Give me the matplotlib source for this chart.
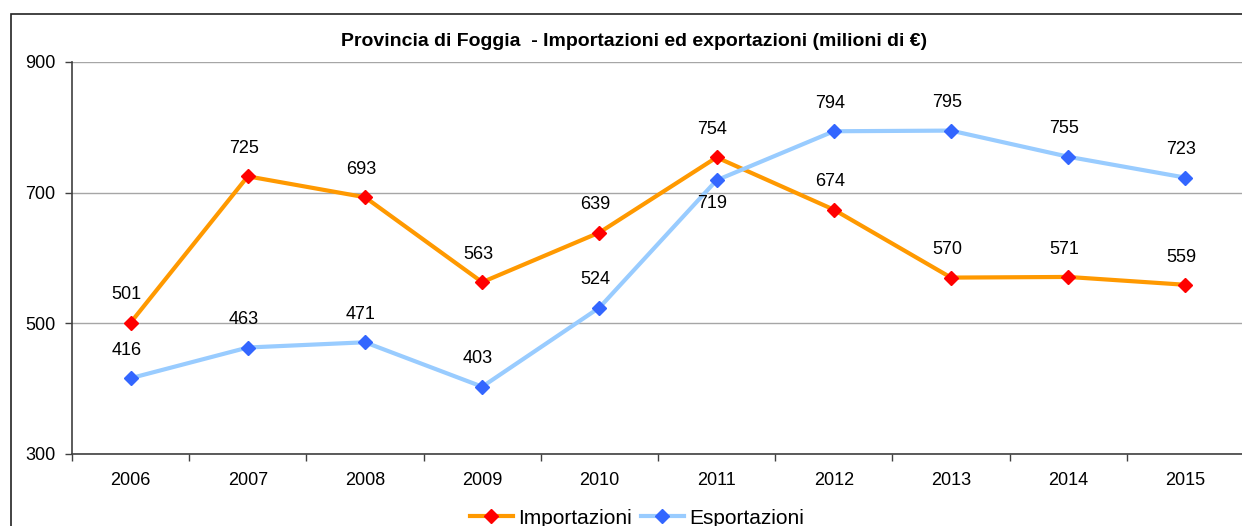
import matplotlib.pyplot as plt
from matplotlib.patches import Rectangle
from matplotlib.ticker import FixedLocator, NullFormatter

plt.rcParams['font.family'] = ['Liberation Sans', 'DejaVu Sans']

# Dati (milioni di euro)
anni = ['2006', '2007', '2008', '2009', '2010', '2011', '2012', '2013', '2014', '2015']
importazioni = [501, 725, 693, 563, 639, 754, 674, 570, 571, 559]
esportazioni = [416, 463, 471, 403, 524, 719, 794, 795, 755, 723]

W, H = 1242, 526
fig = plt.figure(figsize=(W / 100, H / 100), dpi=100)

# cornice del grafico (esce dal bordo a destra e in basso)
fig.patches.append(Rectangle((11 / W, -0.1), 1.2, 1 - 14 / H + 0.1,
                             transform=fig.transFigure, fill=False,
                             edgecolor='#222222', linewidth=1.2))

ax = fig.add_axes([72 / W, (H - 454) / H, (1244 - 72) / W, (454 - 62) / H])
x = list(range(len(anni)))

ax.plot(x, importazioni, color='#FF9900', lw=3, marker='D', ms=7.5,
        mfc='#FF0000', mec='#FF0000', label='Importazioni', zorder=3)
ax.plot(x, esportazioni, color='#99CCFF', lw=3, marker='D', ms=7.5,
        mfc='#3366FF', mec='#3366FF', label='Esportazioni', zorder=3)

# etichette dei valori
for i, v in enumerate(importazioni):
    ax.annotate(str(v), (i, v), xytext=(-3, 20), textcoords='offset points',
                ha='center', va='center', fontsize=13)
for i, v in enumerate(esportazioni):
    dy = -17 if anni[i] == '2011' else 20
    ax.annotate(str(v), (i, v), xytext=(-3, dy), textcoords='offset points',
                ha='center', va='center', fontsize=13)

ax.set_xlim(-0.5, len(anni) - 0.5)
ax.set_ylim(300, 900)
ax.set_yticks([300, 500, 700, 900])
ax.yaxis.grid(True, color='#A6A6A6', lw=1)
ax.set_axisbelow(True)

# tacche tra le categorie, etichette al centro
ax.xaxis.set_major_locator(FixedLocator([i - 0.5 for i in x]))
ax.xaxis.set_major_formatter(NullFormatter())
ax.set_xticks(x, minor=True)
ax.set_xticklabels(anni, minor=True)
ax.tick_params(axis='x', which='major', length=5, color='#404040', width=1)
ax.tick_params(axis='x', which='minor', length=0, pad=13, labelsize=13)
ax.tick_params(axis='y', length=5, color='#404040', width=1, labelsize=13, pad=7)

for s in ['top', 'right']:
    ax.spines[s].set_visible(False)
for s in ['left', 'bottom']:
    ax.spines[s].set_color('#404040')
    ax.spines[s].set_linewidth(1.2)

fig.text(634 / W, 1 - 42 / H, 'Provincia di Foggia  - Importazioni ed exportazioni (milioni di €)',
         ha='center', va='center', fontsize=14, fontweight='bold')

fig.legend(loc='center', bbox_to_anchor=(637 / W, 1 - 518 / H), ncol=2,
           frameon=False, fontsize=15, handlelength=2.1, handletextpad=0.25,
           columnspacing=0.4, borderaxespad=0)

fig.savefig('out.png', dpi=100)
